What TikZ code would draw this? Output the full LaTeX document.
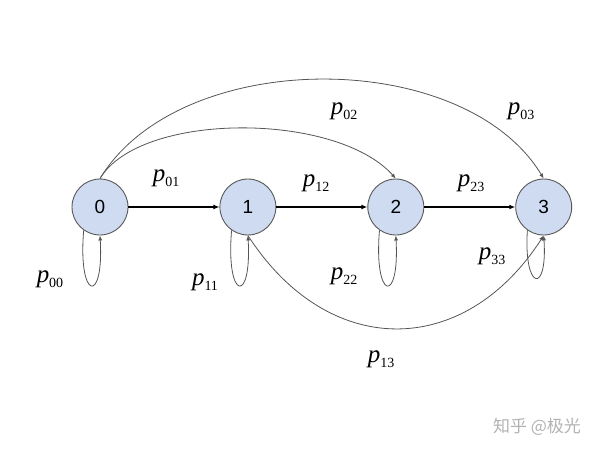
\documentclass[tikz,border=0pt]{standalone}
\usepackage{fontspec}
\setmainfont{Liberation Serif}
\newfontfamily\numfont{Liberation Sans}
\newfontfamily\cjkfont{Noto Sans CJK SC}
\usepackage{xcolor}
\usetikzlibrary{arrows.meta, positioning}

\definecolor{statefill}{RGB}{206,219,240}
\definecolor{edgegray}{RGB}{85,85,85}

% transition probability label p_{ij}
\newcommand{\prob}[1]{{\itshape p}\raisebox{-5pt}{\fontsize{14}{14}\selectfont #1}}

\begin{document}
\begin{tikzpicture}[
    x=1pt, y=1pt,
    state/.style={circle, draw=black!65, line width=0.9pt, fill=statefill,
                  minimum size=56pt, inner sep=0pt, font=\numfont\fontsize{19}{19}\selectfont},
    lbl/.style={inner sep=0pt, font=\fontsize{25}{28}\selectfont},
    straight/.style={-{Latex[length=6pt, width=5pt]}, line width=1.6pt, black},
    curved/.style={-{Latex[length=5pt, width=4pt]}, line width=0.8pt, edgegray}
]
\useasboundingbox (0,0) rectangle (600,-450);

\node[state] (n0) at (100,-207) {0};
\node[state, right=91pt of n0] (n1) {1};
\node[state, right=91pt of n1] (n2) {2};
\node[state, right=91pt of n2] (n3) {3};

% forward steps
\draw[straight] (n0) -- (n1);
\draw[straight] (n1) -- (n2);
\draw[straight] (n2) -- (n3);

% self loops
\draw[curved] (n0.235) .. controls +(-6,-70) and +(4,-70) .. (n0.south);
\draw[curved] (n1.235) .. controls +(-6,-70) and +(4,-70) .. (n1.south);
\draw[curved] (n2.235) .. controls +(-6,-70) and +(4,-70) .. (n2.south);
\draw[curved] (n3.235) .. controls +(-4,-60) and +(4,-60) .. (n3.south);

% jumps
\draw[curved] (n0.north) .. controls +(40,67) and +(-60,67) .. (n2.north);
\draw[curved] (n0.north) .. controls +(80,132) and +(-80,132) .. (n3.north);
\draw[curved] (n1.south) .. controls +(80,-124) and +(-80,-124) .. (n3.south);

\node[lbl] (l00) at (50,-279)  {\prob{00}};
\node[lbl] (l01) at (166,-178) {\prob{01}};
\node[lbl] (l11) at (205,-282) {\prob{11}};
\node[lbl] (l12) at (316,-183) {\prob{12}};
\node[lbl] (l22) at (344,-276) {\prob{22}};
\node[lbl] (l23) at (471,-183) {\prob{23}};
\node[lbl] (l33) at (492,-256) {\prob{33}};
\node[lbl] (l02) at (344,-111) {\prob{02}};
\node[lbl] (l03) at (521,-111) {\prob{03}};
\node[lbl] (l13) at (381,-359) {\prob{13}};

\node[font=\cjkfont\fontsize{17}{17}\selectfont, text=black!30] (mark) at (537,-427) {知乎 @极光};
\end{tikzpicture}
\end{document}
